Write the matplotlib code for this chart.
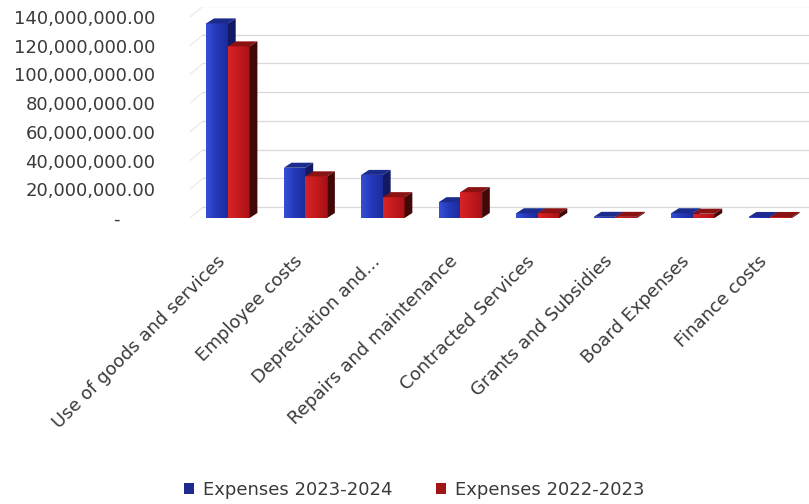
import numpy as np
import matplotlib.pyplot as plt
from matplotlib.patches import Rectangle, Polygon
from matplotlib.colors import LinearSegmentedColormap
from matplotlib.ticker import FuncFormatter
from matplotlib.transforms import ScaledTranslation

plt.rcParams['font.family'] = ['DejaVu Sans']

categorias = ['Use of goods and services', 'Employee costs', 'Depreciation and...',
              'Repairs and maintenance', 'Contracted Services', 'Grants and Subsidies',
              'Board Expenses', 'Finance costs']
gastos_2324 = [135.5e6, 35.0e6, 30.0e6, 11.0e6, 3.3e6, 0.8e6, 3.3e6, 0.7e6]
gastos_2223 = [119.5e6, 29.0e6, 14.5e6, 18.0e6, 3.3e6, 0.8e6, 3.0e6, 0.7e6]
series = ['Expenses 2023-2024', 'Expenses 2022-2023']
yticks = np.arange(0, 140e6 + 1, 20e6)

# colores: frente (claro -> oscuro), costado, tapa
col_azul = (('#3550d4', '#2438b8', '#1c2c9c'), '#111a62', '#1c2b8e')
col_rojo = (('#d82426', '#c41a1e', '#a81216'), '#420808', '#8a1212')

w = 0.28          # ancho de cada barra
dx, dy = 0.10, 3.5e6     # profundidad de la barra
wx, wy = 0.17, 7.7e6     # corrimiento de la pared del fondo
x_ini, x_fin = -0.49, 7.50
y_max = 211.5 / 1.436 * 1e6

fig = plt.figure(figsize=(8.09, 5.04), dpi=100)
ax = fig.add_axes([190 / 809, 1 - 218 / 504, 619 / 809, 211.5 / 504])

# grilla sobre la pared del fondo y lineas de la pared izquierda
for v in yticks:
    ax.plot([x_ini + wx, x_fin], [v + wy, v + wy], color='#d9d9d9', lw=0.9, zorder=0)
    ax.plot([x_ini, x_ini + wx], [v, v + wy], color='#e8e8e8', lw=0.8, zorder=0)

grad = np.linspace(0, 1, 64).reshape(1, -1)


def barra3d(x0, h, cols):
    x1 = x0 + w
    cmap = LinearSegmentedColormap.from_list('frente', cols[0])
    rect = Rectangle((x0, 0), w, h, facecolor='none', edgecolor='none', zorder=2)
    ax.add_patch(rect)
    im = ax.imshow(grad, extent=[x0, x1, 0, h], aspect='auto', cmap=cmap,
                   interpolation='bilinear', zorder=2)
    im.set_clip_path(rect)
    ax.add_patch(Polygon([(x0, h), (x1, h), (x1 + dx, h + dy), (x0 + dx, h + dy)],
                         facecolor=cols[2], edgecolor='none', zorder=2))
    ax.add_patch(Polygon([(x1, 0), (x1 + dx, dy), (x1 + dx, h + dy), (x1, h)],
                         facecolor=cols[1], edgecolor='none', zorder=2))


for i in range(len(categorias)):
    barra3d(i - w, gastos_2324[i], col_azul)
    barra3d(i, gastos_2223[i], col_rojo)

ax.set_xlim(x_ini, x_fin)
ax.set_ylim(0, y_max)
ax.set_yticks(yticks)
ax.yaxis.set_major_formatter(FuncFormatter(lambda v, p: '-      ' if v == 0 else f'{v:,.2f}'))
ax.set_xticks(range(len(categorias)))
ax.set_xticklabels(categorias, rotation=45, ha='right', rotation_mode='anchor')
ax.tick_params(axis='y', length=0, pad=25, labelsize=13, labelcolor='#3a3a3a')
ax.tick_params(axis='x', length=0, pad=21, labelsize=13, labelcolor='#3a3a3a')
# corre un poco las etiquetas inclinadas hacia la izquierda y abajo
corrimiento = ScaledTranslation(-0.12, -0.05, fig.dpi_scale_trans)
for lab in ax.get_xticklabels():
    lab.set_transform(lab.get_transform() + corrimiento)
for s in ax.spines.values():
    s.set_visible(False)

# leyenda con cuadrados
h1 = Rectangle((0, 0), 1, 1, facecolor='#1f2a8e')
h2 = Rectangle((0, 0), 1, 1, facecolor='#a01616')
fig.legend([h1, h2], series, loc='center', bbox_to_anchor=(0.512, 1 - 490 / 504),
           ncol=2, frameon=False, handlelength=0.55, handleheight=0.55,
           handletextpad=0.5, columnspacing=2.4, fontsize=13, labelcolor='#3a3a3a')

fig.savefig('out.png', dpi=100)
